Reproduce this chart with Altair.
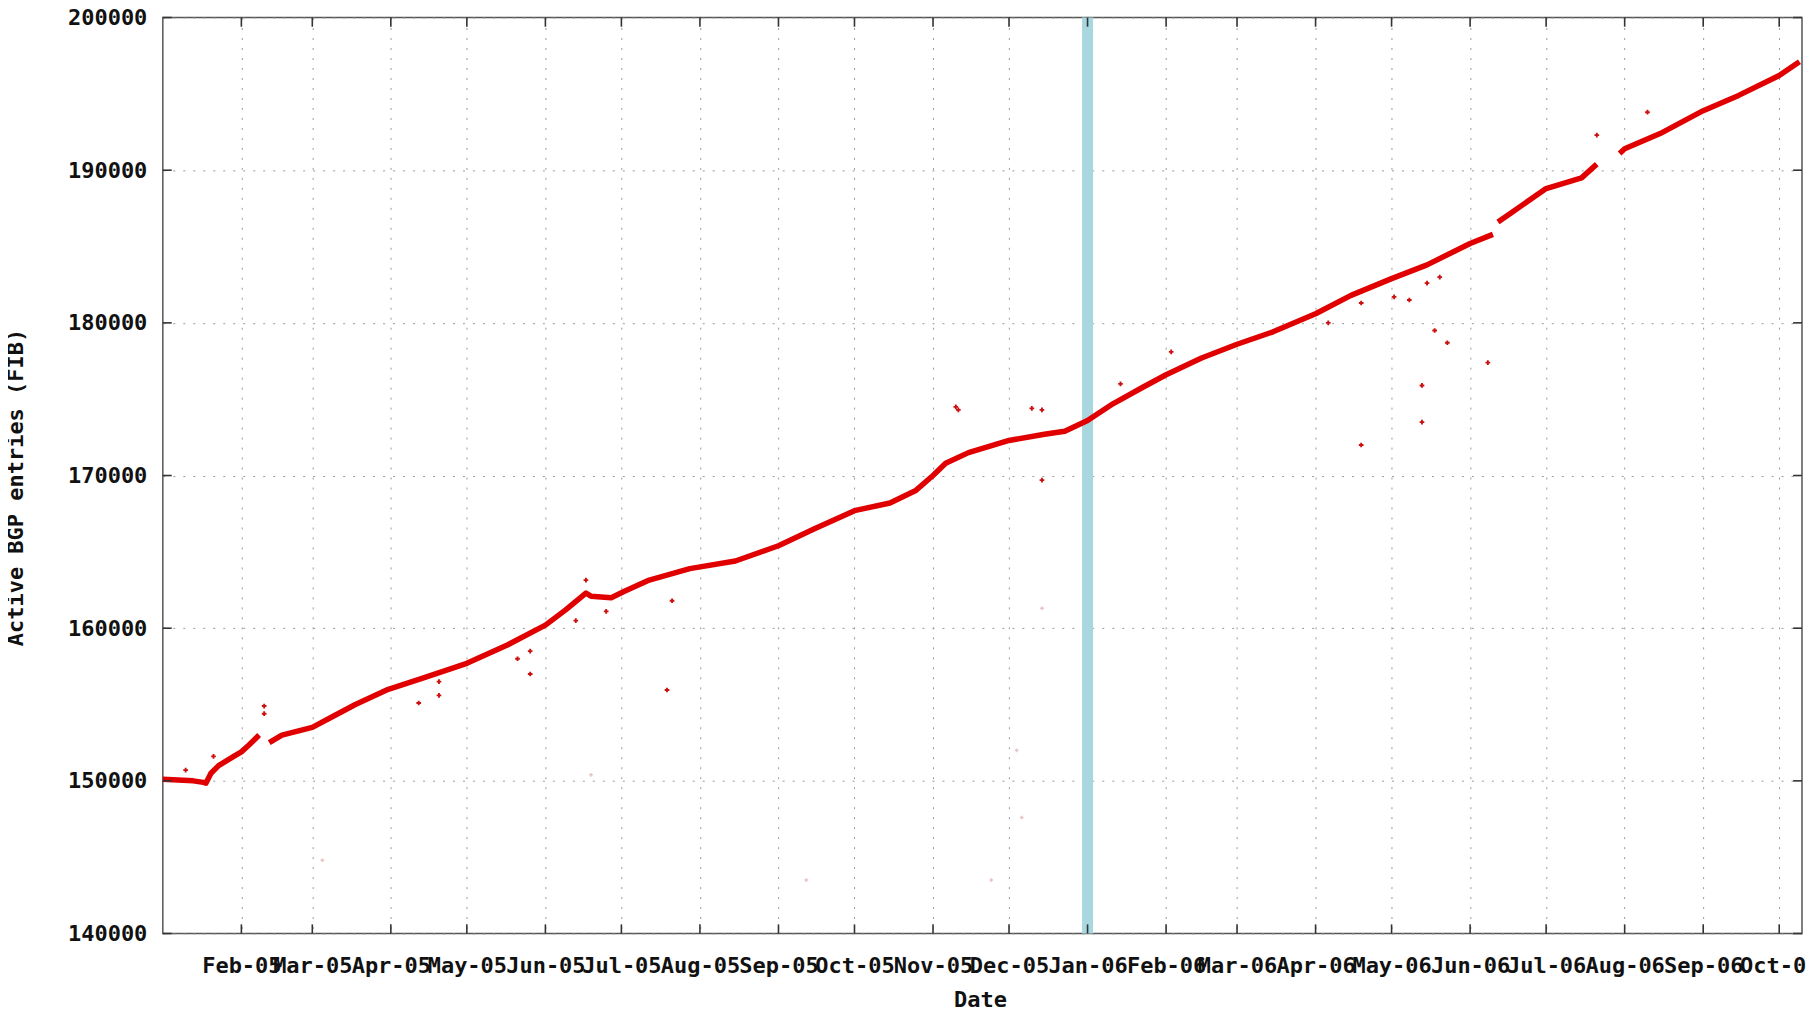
import altair as alt
import pandas as pd

# ---------------- data ----------------
# segment 1 (Jan - early Feb 2005)
seg1_dates = ["2005-01-01", "2005-01-07", "2005-01-13", "2005-01-17", "2005-01-18", "2005-01-20",
              "2005-01-23", "2005-01-29", "2005-02-01", "2005-02-04", "2005-02-08"]
seg1_values = [150100, 150050, 150000, 149900, 149850, 150500,
               151000, 151600, 151900, 152350, 153000]
# segment 2 (mid Feb 2005 - 10 Jun 2006)
seg2_dates = ["2005-02-12", "2005-02-17", "2005-03-01", "2005-03-10", "2005-03-18", "2005-03-31",
              "2005-04-13", "2005-05-01", "2005-05-17", "2005-06-01", "2005-06-09", "2005-06-17",
              "2005-06-19", "2005-06-27", "2005-07-02", "2005-07-12", "2005-07-28", "2005-08-15",
              "2005-09-01", "2005-09-15", "2005-10-01", "2005-10-15", "2005-10-25", "2005-11-01",
              "2005-11-06", "2005-11-15", "2005-12-01", "2005-12-15", "2005-12-23", "2006-01-01",
              "2006-01-11", "2006-01-23", "2006-02-01", "2006-02-15", "2006-03-01", "2006-03-15",
              "2006-04-01", "2006-04-15", "2006-05-01", "2006-05-15", "2006-06-01", "2006-06-10"]
seg2_values = [152500, 153000, 153500, 154300, 155000, 156000,
               156700, 157700, 158900, 160200, 161200, 162300,
               162100, 162000, 162400, 163150, 163900, 164400,
               165400, 166500, 167700, 168200, 169000, 170000,
               170800, 171500, 172300, 172700, 172900, 173600,
               174700, 175800, 176600, 177700, 178600, 179400,
               180600, 181800, 182900, 183800, 185200, 185800]
# segment 3 (mid Jun - late Jul 2006)
seg3_dates = ["2006-06-12", "2006-06-18", "2006-07-01", "2006-07-15", "2006-07-21"]
seg3_values = [186600, 187300, 188800, 189500, 190400]
# segment 4 (end Jul - Oct 2006)
seg4_dates = ["2006-07-30", "2006-08-01", "2006-08-15", "2006-09-01", "2006-09-15", "2006-10-01",
              "2006-10-09"]
seg4_values = [191100, 191400, 192400, 193900, 194900, 196200, 197100]

outlier_dates = [
    "2005-01-10", "2005-01-21", "2005-02-10", "2005-02-10", "2005-04-12", "2005-04-20",
    "2005-04-20", "2005-05-21", "2005-05-26", "2005-05-26", "2005-06-13", "2005-06-17",
    "2005-06-25", "2005-07-21", "2005-07-19",
    "2005-11-10", "2005-11-11", "2005-12-10", "2005-12-14", "2005-12-14",
    "2006-01-14", "2006-02-03", "2006-04-06", "2006-04-19", "2006-05-02", "2006-05-08",
    "2006-05-15", "2006-05-20", "2006-04-19", "2006-05-13", "2006-05-13", "2006-05-18",
    "2006-05-23", "2006-06-08", "2006-07-21", "2006-08-10",
]
outlier_values = [
    150700, 151600, 154900, 154400, 155100, 156500,
    155600, 158000, 157000, 158500, 160500, 163150,
    161100, 161800, 155950,
    174500, 174300, 174400, 174300, 169700,
    176000, 178100, 180000, 181300, 181700, 181500,
    182600, 183000, 172000, 175900, 173500, 179500,
    178700, 177400, 192300, 193800,
]

faint_dates = ["2005-03-05", "2005-06-19", "2005-09-12", "2005-11-24", "2005-12-06",
               "2005-12-04", "2005-12-14"]
faint_values = [144800, 150400, 143500, 143500, 147600, 152000, 161300]

band_dates = ["2006-01-01"]

tick_dates = [
    "2005-02-01", "2005-03-01", "2005-04-01", "2005-05-01", "2005-06-01", "2005-07-01",
    "2005-08-01", "2005-09-01", "2005-10-01", "2005-11-01", "2005-12-01", "2006-01-01",
    "2006-02-01", "2006-03-01", "2006-04-01", "2006-05-01", "2006-06-01", "2006-07-01",
    "2006-08-01", "2006-09-01", "2006-10-01",
]
y_ticks = [140000, 150000, 160000, 170000, 180000, 190000, 200000]
x_domain = ["2005-01-01", "2006-10-10"]


def ms(dates):
    return [int(v) for v in (pd.to_datetime(dates, utc=True).astype("int64") // 10**6)]


segs = [(seg1_dates, seg1_values), (seg2_dates, seg2_values),
        (seg3_dates, seg3_values), (seg4_dates, seg4_values)]
line_df = pd.concat(
    [pd.DataFrame({"date": ms(d), "value": v, "seg": i + 1}) for i, (d, v) in enumerate(segs)],
    ignore_index=True,
)
out_df = pd.DataFrame({"date": ms(outlier_dates), "value": outlier_values})
faint_df = pd.DataFrame({"date": ms(faint_dates), "value": faint_values})
band_df = pd.DataFrame({"date": ms(band_dates)})

tick_ms = ms(tick_dates)
dom_ms = ms(x_domain)
DAY = 86400000

FONT = "DejaVu Sans Mono"

x_enc = alt.X(
    "date:T",
    scale=alt.Scale(type="utc", domain=dom_ms, nice=False),
    axis=alt.Axis(
        values=tick_ms, format="%b-%y", title="Date",
        labelOverlap=False, labelBound=False, labelFlush=False,
        labelPadding=39, labelBaseline="alphabetic",
        titleX=818, titleY=73, titleBaseline="alphabetic", titleAlign="center",
    ),
)
y_enc = alt.Y(
    "value:Q",
    scale=alt.Scale(domain=[140000, 200000], nice=False, zero=False),
    axis=alt.Axis(
        values=y_ticks, format="d", title="Active BGP entries (FIB)",
        labelPadding=16, labelBaseline="middle",
        titleX=-147, titleY=470, titleAlign="center", titleBaseline="middle",
        titleAngle=270,
    ),
)

band = alt.Chart(band_df).mark_rule(color="#a8d7e0", strokeWidth=11).encode(x=x_enc)

faint = alt.Chart(faint_df).mark_point(
    shape="cross", size=14, filled=True, color="#e9c4c4", opacity=1
).encode(x=x_enc, y=y_enc)

line = alt.Chart(line_df).mark_line(
    color="#e00000", strokeWidth=5.5, interpolate="linear", strokeJoin="round"
).encode(x=x_enc, y=y_enc, detail="seg:N")

outliers = alt.Chart(out_df).mark_point(
    shape="cross", size=22, filled=True, color="#cc1010", opacity=1
).encode(x=x_enc, y=y_enc)

# inward tick marks on all four borders (gnuplot style)
xt_bottom = pd.DataFrame({"date": tick_ms, "value": [140000] * len(tick_ms), "v2": [140600] * len(tick_ms)})
xt_top = pd.DataFrame({"date": tick_ms, "value": [199400] * len(tick_ms), "v2": [200000] * len(tick_ms)})
yt_left = pd.DataFrame({"date": [dom_ms[0]] * 7, "d2": [dom_ms[0] + int(3.5 * DAY)] * 7, "value": y_ticks})
yt_right = pd.DataFrame({"date": [dom_ms[1] - int(3.5 * DAY)] * 7, "d2": [dom_ms[1]] * 7, "value": y_ticks})

tick_style = dict(color="#333333", strokeWidth=1.6)
xtb = alt.Chart(xt_bottom).mark_rule(**tick_style).encode(x=x_enc, y=y_enc, y2="v2:Q")
xtt = alt.Chart(xt_top).mark_rule(**tick_style).encode(x=x_enc, y=y_enc, y2="v2:Q")
ytl = alt.Chart(yt_left).mark_rule(**tick_style).encode(x=x_enc, x2="d2:T", y=y_enc)
ytr = alt.Chart(yt_right).mark_rule(**tick_style).encode(x=x_enc, x2="d2:T", y=y_enc)

chart = alt.layer(band, faint, line, outliers, xtb, xtt, ytl, ytr).properties(
    width=1641,
    height=917,
    autosize=alt.AutoSizeParams(type="none"),
    padding={"left": 155, "top": 9, "right": 4, "bottom": 74},
    background="white",
).configure_view(
    stroke="#555555", strokeWidth=1.5
).configure_axis(
    domain=False, ticks=False, tickSize=0,
    grid=True, gridColor="#9a9a9a", gridDash=[2, 8], gridWidth=1,
    labelFont=FONT, labelFontSize=22, labelFontWeight="bold", labelColor="#111111",
    titleFont=FONT, titleFontSize=22, titleFontWeight="bold", titleColor="#111111",
)

chart.save("out.html", embed_options={"renderer": "svg", "actions": False})
